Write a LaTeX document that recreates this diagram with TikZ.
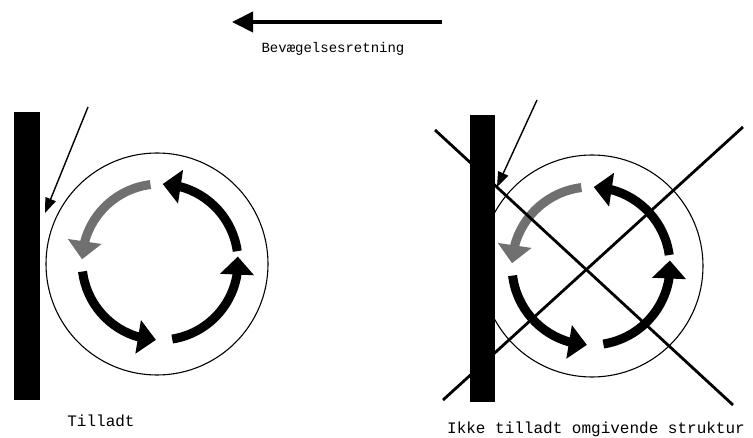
\documentclass[tikz,border=0pt]{standalone}
\usepackage{fontspec}
\setmonofont{Liberation Mono}
\usetikzlibrary{arrows.meta,bending}
\definecolor{rotgray}{HTML}{707070}
\begin{document}
\begin{tikzpicture}[x=1pt,y=-1pt,
  lbl/.style={font=\ttfamily\fontsize{16}{18}\selectfont, inner sep=0pt, anchor=base},
  toplbl/.style={font=\ttfamily\fontsize{14}{16}\selectfont, inner sep=0pt, anchor=base},
  rot/.style={line width=9pt, -{Triangle[length=18pt,width=33pt,flex]}},
  wall/.style={fill=black, draw=none},
  ring/.style={draw=black, line width=1.1pt},
  pointer/.style={line width=1.4pt, -{Triangle[length=15pt,width=11pt]}},
  cross/.style={line width=2.8pt},
  motion/.style={line width=4pt, -{Triangle[length=21pt,width=20pt]}}
]
\useasboundingbox (0,0) rectangle (753,438);
% top arrow
\coordinate (mtail) at (442,22);
\coordinate (mtip) at (232,22);
\draw[motion] (mtail) -- (mtip);
\node[toplbl] (mlabel) at (333,53) {Bevægelsesretning};

% ---------- left panel ----------
\coordinate (lcc) at (157,264);
\coordinate (lac) at (160,262);
\draw[ring] (lcc) circle[radius=111];
\draw[rot] (lac) ++(-8:78) arc[start angle=-8, end angle=-88, radius=78];
\draw[rot, rotgray] (lac) ++(-97:78) arc[start angle=-97, end angle=-178, radius=78];
\draw[rot] (lac) ++(-187:78) arc[start angle=-187, end angle=-267, radius=78];
\draw[rot] (lac) ++(-279:78) arc[start angle=-279, end angle=-364, radius=78];
\fill[wall] (14,112) rectangle (40,400);
\coordinate (lpt) at (88,107);
\coordinate (lptip) at (45,213);
\draw[pointer] (lpt) -- (lptip);
\node[lbl] (ltxt) at (101,427) {Tilladt};

% ---------- right panel ----------
\coordinate (rcc) at (592,266);
\coordinate (rac) at (591,266);
\draw[ring] (rcc) circle[radius=111];
\draw[rot] (rac) ++(-8:79) arc[start angle=-8, end angle=-88, radius=79];
\draw[rot, rotgray] (rac) ++(-97:79) arc[start angle=-97, end angle=-178, radius=79];
\draw[rot] (rac) ++(-187:79) arc[start angle=-187, end angle=-267, radius=79];
\draw[rot] (rac) ++(-279:79) arc[start angle=-279, end angle=-364, radius=79];
\fill[wall] (470,115) rectangle (495,402);
\coordinate (c1a) at (435,130);
\coordinate (c1b) at (733,405);
\coordinate (c2a) at (443,400);
\coordinate (c2b) at (743,127);
\draw[cross] (c1a) -- (c1b);
\draw[cross] (c2a) -- (c2b);
\coordinate (rpt) at (537,100);
\coordinate (rptip) at (497,187);
\draw[pointer] (rpt) -- (rptip);
\node[lbl] (rtxt) at (596,434) {Ikke tilladt omgivende struktur};
\end{tikzpicture}
\end{document}
